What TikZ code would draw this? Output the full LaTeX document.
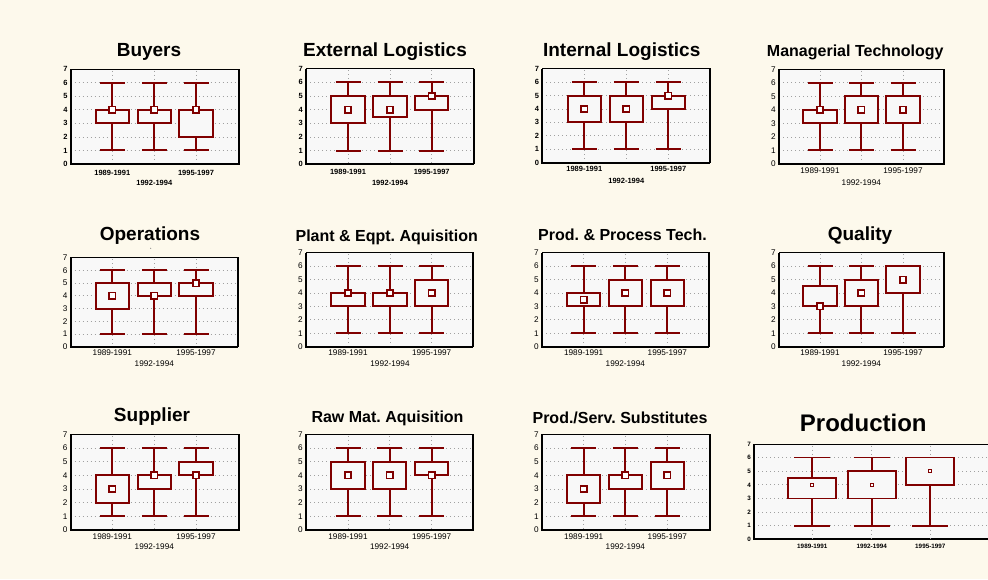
\documentclass[tikz,border=0pt]{standalone}
\usepackage{fontspec}
\setmainfont{Liberation Sans}
\frenchspacing
\definecolor{cream}{RGB}{253,249,236}
\definecolor{plotgray}{RGB}{248,248,248}
\definecolor{boxred}{RGB}{128,0,0}
\definecolor{gridgray}{RGB}{160,160,160}
\tikzset{
  gridline/.style={gridgray, line width=0.8pt, dash pattern=on 1pt off 3pt},
  frameline/.style={black, line width=1pt},
  axisline/.style={black, line width=2pt},
  boxline/.style={boxred, line width=2pt},
  meanline/.style={boxred, line width=1.5pt, fill=white},
  titlebig/.style={anchor=base, inner sep=0pt, font=\bfseries\fontsize{19}{19}\selectfont},
  titlesmall/.style={anchor=base, inner sep=0pt, font=\bfseries\fontsize{16}{16}\selectfont},
  titlehuge/.style={anchor=base, inner sep=0pt, font=\bfseries\fontsize{24}{24}\selectfont},
  ytick/.style={anchor=east, inner sep=0pt, font=\tfont},
  xlab/.style={inner sep=0pt, font=\tfont},
}
\def\tfont{\bfseries\fontsize{7.5}{7.5}\selectfont}
\def\bw{16.6}\def\cw{12.5}\def\mw{3.2}
% plot frame: id, left, right, top, bottom
\newcommand{\PF}[5]{%
  \def\pL{#2}\def\pR{#3}\def\pT{#4}\def\pB{#5}%
  \pgfmathsetmacro{\pU}{(#5-#4)/7}%
  \fill[plotgray] (#2,#4) rectangle (#3,#5);
  \foreach \v in {1,...,6}{\draw[gridline] (#2,{#5-\v*\pU}) -- (#3,{#5-\v*\pU});}
  \foreach \v in {0,...,7}{\node[ytick] (#1-y\v) at ({#2-3},{#5-\v*\pU}) {\v};}
  \draw[frameline] (#2,#4) rectangle (#3,#5);
  \draw[axisline] (#2,#4) -- (#2,#5) -- (#3,#5);
  \draw[axisline] (#3,#4) -- (#3,#5);
}
% box: cx, q1, q3, mean
\newcommand{\BX}[4]{%
  \draw[gridline] (#1,{\pT+1.5}) -- (#1,{\pB-1.5});
  \draw[boxline] (#1,{\pB-1*\pU}) -- (#1,{\pB-#2*\pU}) (#1,{\pB-#3*\pU}) -- (#1,{\pB-6*\pU});
  \draw[boxline] ({#1-\cw},{\pB-1*\pU}) -- ({#1+\cw},{\pB-1*\pU});
  \draw[boxline] ({#1-\cw},{\pB-6*\pU}) -- ({#1+\cw},{\pB-6*\pU});
  \draw[boxline, fill=plotgray] ({#1-\bw},{\pB-#2*\pU}) rectangle ({#1+\bw},{\pB-#3*\pU});
  \draw[meanline] ({#1-\mw},{\pB-#4*\pU-\mw}) rectangle ({#1+\mw},{\pB-#4*\pU+\mw});
}
% x labels: id, c1, c2, c3, d1, d2
\newcommand{\XL}[6]{%
  \node[xlab] (#1-x1) at (#2,{\pB+#5}) {1989-1991};
  \node[xlab] (#1-x2) at (#3,{\pB+#6}) {1992-1994};
  \node[xlab] (#1-x3) at (#4,{\pB+#5}) {1995-1997};
}
\begin{document}
\begin{tikzpicture}[x=1pt,y=-1pt]
\fill[cream] (0,0) rectangle (988,579);
\useasboundingbox (0,0) rectangle (988,579);

% ---------- Row 1 ----------
\def\tfont{\bfseries\fontsize{7.5}{7.5}\selectfont}
\node[titlebig] (t1) at (149,56.7) {Buyers};
\PF{p1}{70.7}{239}{69.3}{164}
\BX{112.3}{3}{4}{4}\BX{154.3}{3}{4}{4}\BX{196}{2}{4}{4}
\XL{p1}{112.3}{154.3}{196}{8.5}{18.7}

\node[titlebig] (t2) at (385,56.7) {External Logistics};
\PF{p2}{306}{473.7}{68.7}{164.3}
\BX{348}{3}{5}{4}\BX{390}{3.5}{5}{4}\BX{431.7}{4}{5}{5}
\XL{p2}{348}{390}{431.7}{7.5}{18.4}

\node[titlebig] (t3) at (621.7,56) {Internal Logistics};
\PF{p3}{542.3}{710}{68.7}{162.7}
\BX{584.3}{3}{5}{4}\BX{626.3}{3}{5}{4}\BX{668.3}{4}{5}{5}
\XL{p3}{584.3}{626.3}{668.3}{6}{18}

\def\tfont{\fontsize{8.2}{8.2}\selectfont}
\node[titlesmall] (t4) at (855.3,56.7) {Managerial Technology};
\PF{p4}{779}{944.3}{69.3}{164}
\BX{820}{3}{4}{4}\BX{861.3}{3}{5}{4}\BX{903}{3}{5}{4}
\XL{p4}{820}{861.3}{903}{7}{18.7}

% ---------- Row 2 ----------
\node[titlebig] (t5) at (150,240) {Operations};
\fill[gray] (150.7,248.3) circle (0.6);
\PF{p5}{70.7}{238.3}{257.7}{346.7}
\BX{112.3}{3}{5}{4}\BX{154.3}{4}{5}{4}\BX{196}{4}{5}{5}
\XL{p5}{112.3}{154.3}{196}{6.3}{16.7}

\node[titlesmall] (t6) at (386.7,241) {Plant \& Eqpt. Aquisition};
\PF{p6}{306}{473.3}{252.7}{346.7}
\BX{348}{3}{4}{4}\BX{390}{3}{4}{4}\BX{431.7}{3}{5}{4}
\XL{p6}{348}{390}{431.7}{6.3}{16.7}

\node[titlesmall] (t7) at (622.5,240) {Prod. \& Process Tech.};
\PF{p7}{542}{709.3}{252.7}{346.7}
\BX{583.7}{3}{4}{3.5}\BX{625.3}{3}{5}{4}\BX{667.3}{3}{5}{4}
\XL{p7}{583.7}{625.3}{667.3}{6.3}{16.7}

\node[titlebig] (t8) at (860,240) {Quality};
\PF{p8}{779}{944.3}{252.7}{346.7}
\BX{820}{3}{4.5}{3}\BX{861.3}{3}{5}{4}\BX{903}{4}{6}{5}
\XL{p8}{820}{861.3}{903}{6.3}{16.7}

% ---------- Row 3 ----------
\node[titlebig] (t9) at (152,421.7) {Supplier};
\PF{p9}{70.7}{239}{434.3}{530}
\BX{112.3}{2}{4}{3}\BX{154.3}{3}{4}{4}\BX{196}{4}{5}{4}
\XL{p9}{112.3}{154.3}{196}{6.7}{16.7}

\node[titlesmall] (t10) at (387.5,422.7) {Raw Mat. Aquisition};
\PF{p10}{306}{473.3}{434.3}{530}
\BX{348}{3}{5}{4}\BX{389.7}{3}{5}{4}\BX{431.7}{4}{5}{4}
\XL{p10}{348}{389.7}{431.7}{6.7}{16.7}

\node[titlesmall] (t11) at (620,423.3) {Prod./Serv. Substitutes};
\PF{p11}{542}{710}{434.3}{530}
\BX{583.7}{2}{4}{3}\BX{625.3}{3}{4}{4}\BX{667.3}{3}{5}{4}
\XL{p11}{583.7}{625.3}{667.3}{6.7}{16.7}

% ---------- Production ----------
\def\tfont{\bfseries\fontsize{6.3}{6.3}\selectfont}
\def\bw{24}\def\cw{18}\def\mw{1.6}
\tikzset{boxline/.style={boxred, line width=1.7pt}, meanline/.style={boxred, line width=1pt, fill=white}}
\node[titlehuge] (t12) at (863.3,431) {Production};
\PF{p12}{754}{1000}{444}{539.3}
\BX{812.3}{3}{4.5}{4}\BX{871.7}{3}{5}{4}\BX{930.3}{4}{6}{5}
\XL{p12}{812.3}{871.7}{930.3}{6.7}{6.7}
\end{tikzpicture}
\end{document}
